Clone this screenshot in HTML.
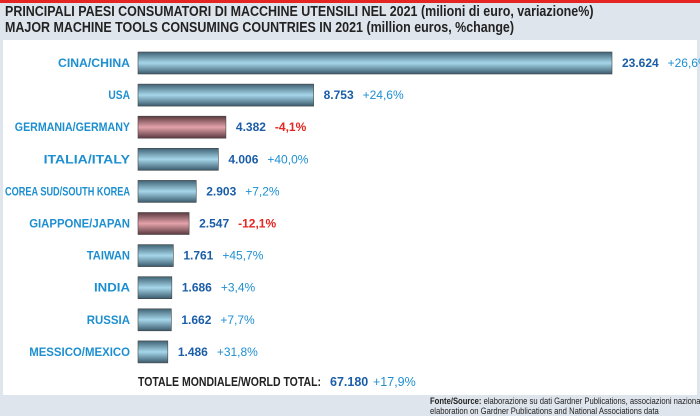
<!DOCTYPE html>
<html><head><meta charset="utf-8"><style>
body{margin:0;width:700px;height:415px;overflow:hidden;background:#dfe5ec;font-family:"Liberation Sans",sans-serif}
#wrap{position:relative;width:700px;height:415px}
.t{position:absolute;left:5px;font-weight:bold;font-size:14.5px;color:#222;transform:scaleX(0.86);transform-origin:left;white-space:nowrap}
#panel{position:absolute;left:3px;top:40px;width:694px;height:355px;background:#fff}
svg{position:absolute;left:0;top:0}
</style></head><body><div id="wrap">
<div style="position:absolute;left:0;top:0;width:700px;height:3px;background:#e52521"></div>
<div class="t" style="top:4px">PRINCIPALI PAESI CONSUMATORI DI MACCHINE UTENSILI NEL 2021 (milioni di euro, variazione%)</div>
<div class="t" style="top:20px">MAJOR MACHINE TOOLS CONSUMING COUNTRIES IN 2021 (million euros, %change)</div>
<div id="panel"></div>
<svg id="c" width="700" height="415">
<defs>
<linearGradient id="gb" x1="0" y1="0" x2="0" y2="1"><stop offset="0" stop-color="#3f6274"/><stop offset="0.5" stop-color="#a6d6ea"/><stop offset="1" stop-color="#3a5a6c"/></linearGradient>
<linearGradient id="gr" x1="0" y1="0" x2="0" y2="1"><stop offset="0" stop-color="#5a3a40"/><stop offset="0.5" stop-color="#e4a2aa"/><stop offset="1" stop-color="#5a3a40"/></linearGradient>
</defs>
</svg>
<div style="position:absolute;left:430px;top:396px;font-size:9px;line-height:10px;color:#222;transform:scaleX(0.85);transform-origin:left;white-space:nowrap"><b>Fonte/Source:</b> elaborazione su dati Gardner Publications, associazioni nazionali/<br>elaboration on Gardner Publications and National Associations data</div>
</div>
<script>
const countries=["CINA/CHINA","USA","GERMANIA/GERMANY","ITALIA/ITALY","COREA SUD/SOUTH KOREA","GIAPPONE/JAPAN","TAIWAN","INDIA","RUSSIA","MESSICO/MEXICO"];
const values=[23624,8753,4382,4006,2903,2547,1761,1686,1662,1486];
const valueLabels=["23.624","8.753","4.382","4.006","2.903","2.547","1.761","1.686","1.662","1.486"];
const changes=["+26,6%","+24,6%","-4,1%","+40,0%","+7,2%","-12,1%","+45,7%","+3,4%","+7,7%","+31,8%"];
const totalLabel="67.180", totalChange="+17,9%";
const svg=document.getElementById('c');const NS='http://www.w3.org/2000/svg';
const x0=138, xs=v=>x0+v*(474/23624), yc=i=>63+i*32.1, bh=22;
function mk(tag,attrs,txt){const e=document.createElementNS(NS,tag);for(const k in attrs)e.setAttribute(k,attrs[k]);if(txt!=null)e.textContent=txt;svg.appendChild(e);return e;}
countries.forEach((c,i)=>{
 const neg=changes[i][0]==='-';
 const y=yc(i);
 const l=mk('text',{x:130,y:y+4,'text-anchor':'end','font-size':12,'font-weight':'bold',fill:'#1d8fd0',textLength:Math.min(c.length*7.2,125),lengthAdjust:'spacingAndGlyphs'},c);
 
 
 const r=mk('rect',{x:x0,y:y-bh/2,width:xs(values[i])-x0,height:bh,fill:neg?'url(#gr)':'url(#gb)',stroke:'#444','stroke-width':0.6});
 
 
 const t=mk('text',{x:xs(values[i])+10,y:y+4,'font-size':12,'font-weight':'bold',fill:'#1a5da8'},valueLabels[i]);
 
 
 const w=valueLabels[i].length*6.6+6;
 const p=mk('text',{x:xs(values[i])+10+w,y:y+4,'font-size':12,'font-weight':neg?'bold':'normal',fill:neg?'#e52521':'#1d8fd0'},changes[i]);
 
 
});
const tt=mk('text',{x:138,y:386,'font-size':12.5,'font-weight':'bold',fill:'#222',textLength:183,lengthAdjust:'spacingAndGlyphs'},'TOTALE MONDIALE/WORLD TOTAL:');


const tv=mk('text',{x:330,y:386,'font-size':12.5,'font-weight':'bold',fill:'#1a5da8'},totalLabel);


const tc=mk('text',{x:373,y:386,'font-size':12.5,fill:'#1d8fd0'},totalChange);


</script></body></html>
